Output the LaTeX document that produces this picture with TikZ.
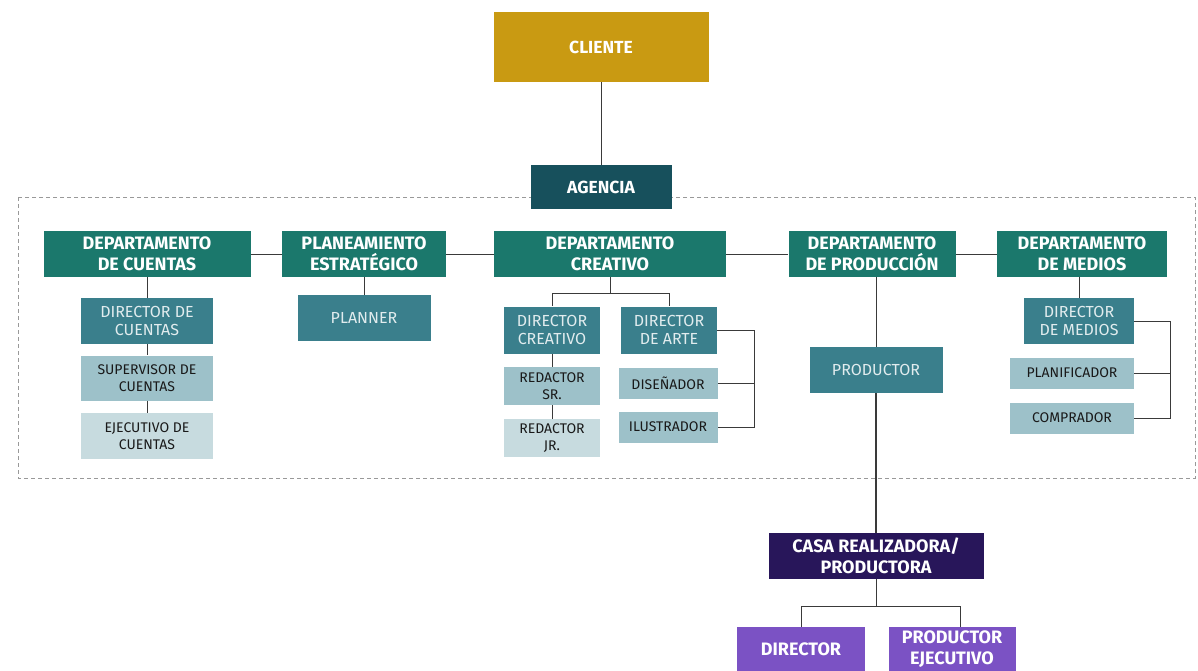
\documentclass[tikz,border=0pt]{standalone}
\usepackage{fontspec}
\setmainfont{Fira Sans}
\usetikzlibrary{positioning}

\definecolor{gold}{HTML}{C99A12}
\definecolor{agency}{HTML}{17505C}
\definecolor{dept}{HTML}{1B786C}
\definecolor{boss}{HTML}{3A7F8C}
\definecolor{staff}{HTML}{9DC1C9}
\definecolor{junior}{HTML}{C7DBDF}
\definecolor{casa}{HTML}{28165A}
\definecolor{crew}{HTML}{7B52C4}
\definecolor{wire}{HTML}{3A3A3A}

\begin{document}
\begin{tikzpicture}[x=1pt,y=1pt,line width=0.9pt,draw=wire,
  box/.style={rectangle,inner sep=0pt,align=center},
  head node/.style={box,fill=gold,text=white,font=\bfseries\fontsize{17.5}{20}\selectfont,minimum width=215pt,minimum height=70pt},
  agency node/.style={box,fill=agency,text=white,font=\bfseries\fontsize{17.5}{20}\selectfont,minimum width=141pt,minimum height=44pt},
  dept node/.style={box,fill=dept,text=white,font=\bfseries\fontsize{18}{20.5}\selectfont,minimum height=46pt},
  boss node/.style={box,fill=boss,text=white!85!boss,font=\fontsize{16}{18.5}\selectfont,minimum height=46pt},
  staff node/.style={box,fill=staff,text=black!90,font=\fontsize{14}{17}\selectfont},
  junior node/.style={box,fill=junior,text=black!90,font=\fontsize{14}{17}\selectfont},
  casa node/.style={box,fill=casa,text=white,font=\bfseries\fontsize{18}{20.5}\selectfont,minimum width=215pt,minimum height=46pt},
  crew node/.style={box,fill=crew,text=white,font=\bfseries\fontsize{18}{20.5}\selectfont,minimum width=128pt,minimum height=44pt}]

\useasboundingbox (0,0) rectangle (1198,-671);

%agency frame
\draw[gray!80,line width=0.8pt,dash pattern=on 4pt off 3pt] (18,-197) rectangle (1195,-478);

\node[head node] (1) at (601,-47) {CLIENTE};
\node[agency node] (2) [below of=1,node distance=140pt] {AGENCIA};

%departments
\node[dept node,minimum width=207pt] (3) at (147,-254) {DEPARTAMENTO\\DE CUENTAS};
\node[dept node,minimum width=164pt] (4) [right of=3,node distance=217pt] {PLANEAMIENTO\\ESTRATÉGICO};
\node[dept node,minimum width=232pt] (5) [right of=4,node distance=246pt] {DEPARTAMENTO\\CREATIVO};
\node[dept node,minimum width=167pt] (6) [right of=5,node distance=262pt] {DEPARTAMENTO\\DE PRODUCCIÓN};
\node[dept node,minimum width=170pt] (7) [right of=6,node distance=210pt] {DEPARTAMENTO\\DE MEDIOS};

%cuentas
\node[boss node,minimum width=132pt] (8) [below of=3,node distance=67pt] {DIRECTOR DE\\CUENTAS};
\node[staff node,minimum width=132pt,minimum height=45pt] (9) [below of=8,node distance=57pt] {SUPERVISOR DE\\CUENTAS};
\node[junior node,minimum width=132pt,minimum height=46pt] (10) [below of=9,node distance=58pt] {EJECUTIVO DE\\CUENTAS};

%planeamiento
\node[boss node,minimum width=133pt] (11) [below of=4,node distance=64pt] {PLANNER};

%creativo
\node[boss node,minimum width=96pt,minimum height=47pt] (12) [below of=5,node distance=76pt,xshift=-58pt] {DIRECTOR\\CREATIVO};
\node[boss node,minimum width=96pt,minimum height=47pt] (13) [right of=12,node distance=117pt] {DIRECTOR\\DE ARTE};
\node[staff node,minimum width=96pt,minimum height=38pt] (14) [below of=12,node distance=56pt] {REDACTOR\\SR.};
\node[junior node,minimum width=96pt,minimum height=38pt] (15) [below of=14,node distance=52pt] {REDACTOR\\JR.};
\node[staff node,minimum width=99pt,minimum height=31pt] (16) [below of=13,node distance=53pt,xshift=-1pt] {DISEÑADOR};
\node[staff node,minimum width=99pt,minimum height=31pt] (17) [below of=16,node distance=44pt] {ILUSTRADOR};

%produccion
\node[boss node,minimum width=133pt] (18) [below of=6,node distance=116pt,xshift=4pt] {PRODUCTOR};

%medios
\node[boss node,minimum width=110pt] (19) [below of=7,node distance=67pt,xshift=-3pt] {DIRECTOR\\DE MEDIOS};
\node[staff node,minimum width=124pt,minimum height=31pt] (20) [below of=19,node distance=52pt,xshift=-7pt] {PLANIFICADOR};
\node[staff node,minimum width=124pt,minimum height=31pt] (21) [below of=20,node distance=45pt] {COMPRADOR};

%productora
\node[casa node] (22) [below of=18,node distance=186pt] {CASA REALIZADORA/\\PRODUCTORA};
\node[crew node] (23) [below of=22,node distance=93pt,xshift=-75pt] {DIRECTOR};
\node[crew node,minimum width=127pt] (24) [right of=23,node distance=151pt] {PRODUCTOR\\EJECUTIVO};

%vertical lines
\draw (1) -- (2);
\draw (3) -- (8);
\draw (8) -- (9);
\draw (9) -- (10);
\draw (4) -- (11);
\draw (12) -- (14);
\draw (14) -- (15);
\draw (6.south -| 18) -- (18);
\draw[line width=2pt] (18) -- (22);
\draw (7.south -| 19) -- (19);

%horizontal lines
\draw (3) -- (4);
\draw (4) -- (5);
\draw (5) -- (6);
\draw (6) -- (7);

%branches
\draw (5.south) -- ++(0,-16) coordinate (cs);
\draw (cs) -| (12);
\draw (cs) -| (13);
\draw (22.south) -- ++(0,-27) coordinate (ps);
\draw (ps) -| (23);
\draw (ps) -| ([xshift=8pt]24.north);

%brackets
\draw (13.east) -- ++(37,0) coordinate (ab) |- (17.east);
\draw (16.east) -- (16.east -| ab);
\draw (19.east) -- ++(36,0) coordinate (mb) |- (21.east);
\draw (20.east) -- (20.east -| mb);

\end{tikzpicture}
\end{document}
